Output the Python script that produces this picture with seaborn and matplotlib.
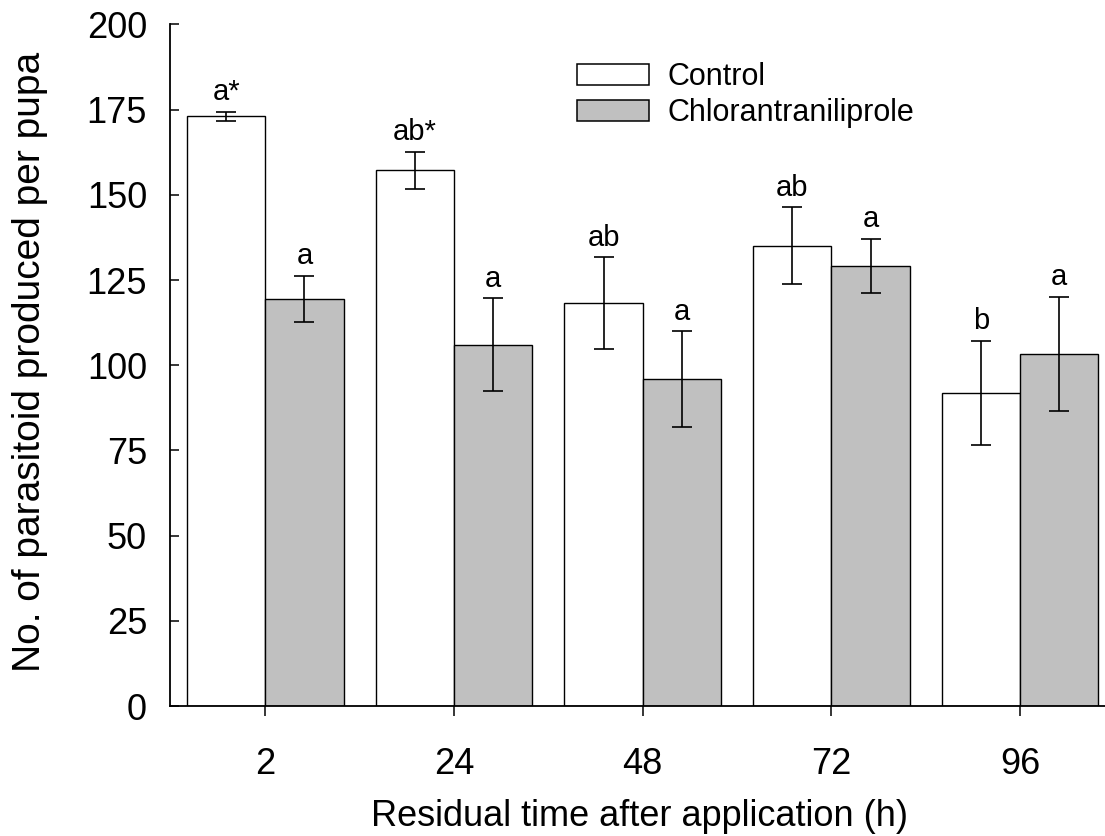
import numpy as np
import pandas as pd
import matplotlib
matplotlib.use('Agg')
import matplotlib.pyplot as plt
from matplotlib.patches import Patch
import seaborn as sns

# values (mean +/- SE)
times = ['2', '24', '48', '72', '96']
treatments = ['Control', 'Chlorantraniliprole']
control_mean = [173.0, 157.2, 118.3, 135.0, 91.9]
control_se = [1.4, 5.4, 13.4, 11.3, 15.3]
chlor_mean = [119.5, 106.0, 95.9, 129.1, 103.4]
chlor_se = [6.8, 13.7, 14.1, 8.0, 16.7]
control_letters = ['a*', 'ab*', 'ab', 'ab', 'b']
chlor_letters = ['a', 'a', 'a', 'a', 'a']

bar_colors = {'Control': 'white', 'Chlorantraniliprole': '#c0c0c0'}

df = pd.DataFrame({
    'time': times * 2,
    'treatment': ['Control'] * len(times) + ['Chlorantraniliprole'] * len(times),
    'value': control_mean + chlor_mean,
})
se = {'Control': control_se, 'Chlorantraniliprole': chlor_se}
letters = {'Control': control_letters, 'Chlorantraniliprole': chlor_letters}

sns.set_style('ticks', rc={'text.color': 'black', 'axes.labelcolor': 'black',
                           'xtick.color': 'black', 'ytick.color': 'black',
                           'axes.edgecolor': 'black'})
plt.rcParams['font.family'] = ['Liberation Sans', 'DejaVu Sans']

fig = plt.figure(figsize=(11.05, 8.36), dpi=100)
ax = fig.add_axes([0.1538, 0.1555, 0.8462, 0.8152])

sns.barplot(data=df, x='time', y='value', hue='treatment', order=times,
            hue_order=treatments, palette=bar_colors, saturation=1, width=0.83,
            edgecolor='black', linewidth=1.0, errorbar=None, legend=False, ax=ax)

# error bars and significance letters on top of each bar
for cont, trt in zip(ax.containers, treatments):
    xs = [p.get_x() + p.get_width() / 2 for p in cont]
    ys = [p.get_height() for p in cont]
    ax.errorbar(xs, ys, yerr=se[trt], fmt='none', ecolor='black',
                elinewidth=1.2, capsize=7, capthick=1.2)
    for x, y, e, lab in zip(xs, ys, se[trt], letters[trt]):
        ax.annotate(lab, (x, y + e), xytext=(0, 4), textcoords='offset points',
                    ha='center', va='bottom', fontsize=21, color='black')

handles = [Patch(facecolor=bar_colors[t], edgecolor='black', linewidth=1.1) for t in treatments]
ax.legend(handles, treatments, fontsize=22, frameon=False, loc='upper left',
          bbox_to_anchor=(577 / 1105, 1 - 62 / 836), bbox_transform=fig.transFigure,
          borderpad=0, borderaxespad=0, handlelength=2.35, handleheight=0.655,
          handletextpad=0.6, labelspacing=0.2)

ax.set_ylim(0, 200)
ax.set_xlim(-0.505, 4.45)
ax.set_yticks(np.arange(0, 201, 25))
ax.tick_params(axis='y', direction='in', length=6.5, width=1.1, labelsize=26, pad=16.5)
ax.tick_params(axis='x', direction='out', length=7.2, width=1.1, labelsize=26, pad=22)
sns.despine(ax=ax)
for s in ['left', 'bottom']:
    ax.spines[s].set_linewidth(1.3)

ax.set_xlabel('Residual time after application (h)', fontsize=26)
ax.set_ylabel('No. of parasitoid produced per pupa', fontsize=28)
ax.xaxis.set_label_coords(0.5027, -0.1365)
ax.yaxis.set_label_coords(-0.1305, 0.505)

fig.savefig('out.png', dpi=100)
